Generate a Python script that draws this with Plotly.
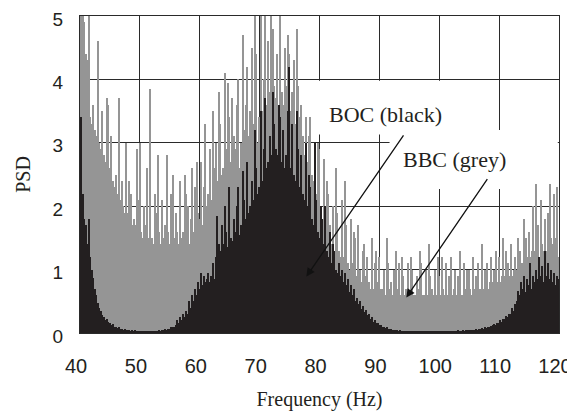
import plotly.graph_objects as go

# Frequency grid: 40 .. 120 Hz, 0.25 Hz bins
F_START = 40.0
F_STEP = 0.25

# BBC spectrum (grey), 4 values per Hz, 40 Hz .. 120 Hz
bbc_psd = [
    4.6, 5.2, 5.2, 4.9,   # 40
    4.4, 4.3, 5.1, 3.4,   # 41
    3.3, 3.6, 3.2, 3.1,   # 42
    4.6, 3.0, 2.9, 3.5,   # 43
    2.8, 2.7, 3.7, 3.6,   # 44
    2.6, 3.1, 2.4, 2.3,   # 45
    2.5, 2.2, 3.7, 2.1,   # 46
    2.4, 2.0, 1.9, 3.0,   # 47
    1.9, 2.4, 2.2, 1.7,   # 48
    1.8, 1.7, 2.9, 2.1,   # 49
    3.0, 1.6, 1.5, 2.0,   # 50
    1.7, 2.6, 1.5, 3.85,  # 51
    1.5, 1.4, 2.2, 1.9,   # 52
    2.8, 1.6, 1.4, 2.1,   # 53
    1.5, 1.7, 2.8, 1.6,   # 54
    1.4, 2.2, 2.5, 1.5,   # 55
    1.9, 1.6, 1.4, 2.4,   # 56
    1.5, 1.6, 2.5, 2.2,   # 57
    2.0, 1.4, 1.8, 2.6,   # 58
    1.6, 2.3, 2.7, 1.9,   # 59
    1.8, 2.7, 1.7, 2.3,   # 60
    3.3, 2.0, 2.2, 2.9,   # 61
    2.1, 3.5, 2.6, 3.0,   # 62
    2.4, 3.8, 3.3, 2.5,   # 63
    2.6, 4.1, 2.9, 3.95,  # 64
    3.4, 2.7, 3.7, 3.1,   # 65
    2.9, 3.6, 4.0, 2.6,   # 66
    3.0, 4.7, 3.2, 3.6,   # 67
    4.2, 3.1, 3.5, 4.5,   # 68
    3.3, 5.2, 4.4, 3.0,   # 69
    3.4, 5.2, 3.5, 4.0,   # 70
    5.2, 3.6, 4.6, 3.8,   # 71
    5.2, 4.8, 3.9, 3.7,   # 72
    4.4, 3.5, 5.2, 3.8,   # 73
    3.6, 4.5, 3.9, 4.7,   # 74
    4.4, 3.5, 3.8, 4.3,   # 75
    3.3, 4.8, 3.9, 3.4,   # 76
    3.6, 3.1, 2.8, 3.4,   # 77
    2.7, 3.1, 3.4, 2.5,   # 78
    2.4, 2.9, 2.2, 3.0,   # 79
    2.9, 1.8, 1.6, 2.75,  # 80
    1.5, 2.4, 2.2, 1.7,   # 81
    1.4, 2.0, 1.3, 2.6,   # 82
    1.9, 1.3, 1.2, 2.1,   # 83
    1.2, 2.4, 1.7, 1.1,   # 84
    1.0, 1.8, 1.1, 1.6,   # 85
    1.5, 0.9, 1.7, 1.0,   # 86
    0.8, 1.3, 1.4, 0.9,   # 87
    1.2, 0.8, 0.7, 1.5,   # 88
    0.7, 1.1, 1.3, 0.8,   # 89
    1.2, 0.7, 0.7, 1.0,   # 90
    0.6, 1.5, 1.1, 0.7,   # 91
    0.8, 0.6, 1.0, 1.3,   # 92
    0.7, 1.1, 0.6, 1.2,   # 93
    0.9, 0.6, 0.7, 1.1,   # 94
    0.6, 1.2, 1.0, 0.6,   # 95
    0.6, 0.9, 0.7, 1.3,   # 96
    1.1, 0.6, 0.6, 1.0,   # 97
    0.6, 1.4, 0.9, 0.7,   # 98
    0.6, 1.0, 0.6, 1.2,   # 99
    0.9, 0.6, 1.2, 0.7,   # 100
    0.6, 1.1, 0.6, 0.9,   # 101
    1.2, 0.6, 0.7, 1.0,   # 102
    0.6, 0.9, 1.3, 0.6,   # 103
    0.6, 1.1, 0.7, 1.0,   # 104
    1.0, 0.7, 0.6, 1.2,   # 105
    0.7, 0.9, 1.1, 0.7,   # 106
    0.7, 1.4, 0.7, 1.0,   # 107
    1.1, 0.7, 0.8, 1.2,   # 108
    0.8, 1.0, 1.3, 0.8,   # 109
    1.2, 0.8, 0.9, 1.5,   # 110
    0.9, 1.3, 1.1, 0.9,   # 111
    1.4, 0.9, 1.0, 1.2,   # 112
    1.0, 1.5, 1.3, 1.1,   # 113
    1.1, 1.8, 1.5, 1.2,   # 114
    1.6, 1.2, 1.3, 2.0,   # 115
    1.3, 2.35, 1.7, 1.2,  # 116
    2.1, 1.4, 1.3, 1.8,   # 117
    1.3, 1.9, 2.35, 1.5,  # 118
    1.4, 2.2, 1.5, 2.3,   # 119
    1.2,                  # 120
]

# BOC spectrum (black), 4 values per Hz, 40 Hz .. 120 Hz
boc_psd = [
    1.3, 3.4, 2.2, 1.8,     # 40
    1.7, 1.4, 1.8, 1.2,     # 41
    1.0, 0.87, 0.7, 0.6,    # 42
    0.47, 0.4, 0.35, 0.28,  # 43
    0.25, 0.2, 0.22, 0.17,  # 44
    0.15, 0.12, 0.14, 0.1,  # 45
    0.1, 0.08, 0.09, 0.07,  # 46
    0.07, 0.05, 0.06, 0.05, # 47
    0.04, 0.05, 0.03, 0.04, # 48
    0.03, 0.04, 0.03, 0.02, # 49
    0.02, 0.03, 0.02, 0.02, # 50
    0.02, 0.02, 0.03, 0.02, # 51
    0.03, 0.02, 0.03, 0.03, # 52
    0.03, 0.04, 0.03, 0.05, # 53
    0.04, 0.06, 0.05, 0.07, # 54
    0.07, 0.09, 0.1, 0.09,  # 55
    0.12, 0.2, 0.15, 0.25,  # 56
    0.2, 0.3, 0.25, 0.35,   # 57
    0.3, 0.5, 0.4, 0.6,     # 58
    0.5, 0.7, 0.6, 0.8,     # 59
    0.7, 0.95, 0.75, 0.9,   # 60
    0.8, 0.85, 0.95, 0.8,   # 61
    0.9, 1.1, 0.85, 1.2,    # 62
    1.85, 1.4, 1.3, 1.7,    # 63
    1.4, 2.0, 1.6, 1.35,    # 64
    2.3, 1.5, 1.45, 1.8,    # 65
    1.6, 2.0, 2.3, 1.55,    # 66
    1.7, 2.55, 2.1, 1.8,    # 67
    2.7, 1.9, 2.0, 2.4,     # 68
    2.1, 3.2, 2.6, 2.2,     # 69
    2.3, 3.5, 2.4, 2.9,     # 70
    3.7, 2.6, 2.7, 3.1,     # 71
    2.8, 3.8, 3.3, 2.9,     # 72
    2.8, 3.6, 3.4, 2.7,     # 73
    3.2, 2.6, 2.8, 3.5,     # 74
    4.2, 2.6, 3.3, 2.5,     # 75
    2.4, 3.5, 2.9, 2.3,     # 76
    2.8, 2.2, 2.1, 3.0,     # 77
    2.0, 2.5, 2.3, 1.8,     # 78
    1.7, 3.0, 2.1, 1.6,     # 79
    1.5, 2.0, 1.8, 1.4,     # 80
    2.0, 1.3, 1.2, 1.6,     # 81
    1.1, 1.4, 1.3, 1.0,     # 82
    0.95, 1.1, 0.9, 1.0,    # 83
    0.8, 0.95, 0.75, 0.85,  # 84
    0.65, 0.75, 0.6, 0.7,   # 85
    0.5, 0.55, 0.45, 0.5,   # 86
    0.38, 0.42, 0.33, 0.36, # 87
    0.28, 0.3, 0.22, 0.25,  # 88
    0.18, 0.2, 0.15, 0.16,  # 89
    0.12, 0.13, 0.1, 0.1,   # 90
    0.08, 0.09, 0.07, 0.07, # 91
    0.06, 0.05, 0.05, 0.04, # 92
    0.04, 0.03, 0.04, 0.03, # 93
    0.03, 0.03, 0.02, 0.03, # 94
    0.03, 0.02, 0.03, 0.02, # 95
    0.02, 0.03, 0.02, 0.02, # 96
    0.02, 0.02, 0.03, 0.02, # 97
    0.02, 0.03, 0.02, 0.02, # 98
    0.02, 0.02, 0.02, 0.03, # 99
    0.02, 0.03, 0.02, 0.02, # 100
    0.03, 0.02, 0.03, 0.03, # 101
    0.03, 0.03, 0.02, 0.03, # 102
    0.03, 0.04, 0.03, 0.03, # 103
    0.04, 0.03, 0.04, 0.04, # 104
    0.04, 0.05, 0.04, 0.05, # 105
    0.05, 0.06, 0.05, 0.07, # 106
    0.06, 0.08, 0.07, 0.09, # 107
    0.08, 0.1, 0.09, 0.11,  # 108
    0.12, 0.14, 0.12, 0.15, # 109
    0.15, 0.2, 0.17, 0.22,  # 110
    0.22, 0.27, 0.25, 0.3,  # 111
    0.3, 0.4, 0.35, 0.45,   # 112
    0.5, 0.67, 0.6, 0.8,    # 113
    0.7, 0.9, 0.65, 0.85,   # 114
    0.75, 1.1, 0.7, 0.9,    # 115
    0.8, 1.0, 0.85, 1.2,    # 116
    0.9, 1.05, 0.8, 1.3,    # 117
    0.9, 1.1, 0.85, 1.0,    # 118
    0.8, 0.95, 0.75, 0.9,   # 119
    0.85,                   # 120
]

x_ticks = [40, 50, 60, 70, 80, 90, 100, 110, 120]
y_ticks = [0, 1, 2, 3, 4, 5]

freq = [F_START + F_STEP * i for i in range(len(bbc_psd))]

GREY = "#959595"
BLACK = "#231f20"
GRID = "#2a2a2a"
SERIF = "Liberation Serif, Times New Roman, serif"
SANS = "Liberation Sans, Arial, sans-serif"

fig = go.Figure()
fig.add_trace(go.Bar(x=freq, y=bbc_psd, width=F_STEP, marker=dict(color=GREY, line=dict(width=0)),
                     name="BBC", hoverinfo="x+y"))
fig.add_trace(go.Bar(x=freq, y=boc_psd, width=F_STEP, marker=dict(color=BLACK, line=dict(width=0)),
                     name="BOC", hoverinfo="x+y"))

# white label boxes covering the gridlines
fig.add_shape(type="rect", xref="x", yref="y", x0=79.7, x1=102.5, y0=3.13, y1=3.98,
              fillcolor="white", line=dict(width=0), layer="between")
fig.add_shape(type="rect", xref="x", yref="y", x0=91.7, x1=119.8, y0=2.27, y1=3.2,
              fillcolor="white", line=dict(width=0), layer="between")

fig.add_annotation(x=91.0, y=3.45, xref="x", yref="y", text="BOC (black)", showarrow=False,
                   font=dict(family=SERIF, size=22, color="#231f20"))
fig.add_annotation(x=102.6, y=2.73, xref="x", yref="y", text="BBC (grey)", showarrow=False,
                   font=dict(family=SERIF, size=22, color="#231f20"))
fig.add_annotation(x=77.8, y=0.89, ax=94.2, ay=3.14, xref="x", yref="y", axref="x", ayref="y",
                   text="", showarrow=True, arrowhead=2, arrowsize=1.3, arrowwidth=1.3,
                   arrowcolor="#111111", standoff=0)
fig.add_annotation(x=94.5, y=0.56, ax=108.2, ay=2.45, xref="x", yref="y", axref="x", ayref="y",
                   text="", showarrow=True, arrowhead=2, arrowsize=1.3, arrowwidth=1.3,
                   arrowcolor="#111111", standoff=0)

# the page body adds an 8 px offset, so the figure is sized to fit the window
fig.update_layout(
    width=567, height=405,
    margin=dict(l=72, r=16, t=8, b=80, autoexpand=False),
    paper_bgcolor="white", plot_bgcolor="white",
    barmode="overlay", bargap=0, showlegend=False,
    font=dict(family=SANS, size=20, color="#231f20"),
)
fig.update_xaxes(
    range=[40, 120], tickvals=x_ticks, ticktext=[str(v) for v in x_ticks],
    automargin=False, ticklabeloverflow="allow", ticklabelshift=-4,
    showgrid=True, gridcolor=GRID, gridwidth=1,
    showline=True, linecolor=GRID, linewidth=1, mirror=True,
    ticks="", ticklabelstandoff=15, zeroline=False,
    tickfont=dict(family=SANS, size=20),
    title=dict(text="Frequency (Hz)", font=dict(family=SERIF, size=20), standoff=15),
)
fig.update_yaxes(
    range=[0, 5], tickvals=y_ticks, ticktext=[str(v) for v in y_ticks],
    automargin=False, ticklabeloverflow="allow", ticklabelshift=3,
    showgrid=True, gridcolor=GRID, gridwidth=1,
    showline=True, linecolor=GRID, linewidth=1, mirror=True,
    ticks="", ticklabelstandoff=12, zeroline=False,
    tickfont=dict(family=SANS, size=19),
    title=dict(text="PSD", font=dict(family=SERIF, size=20), standoff=16),
)

fig.write_html("out.html")
